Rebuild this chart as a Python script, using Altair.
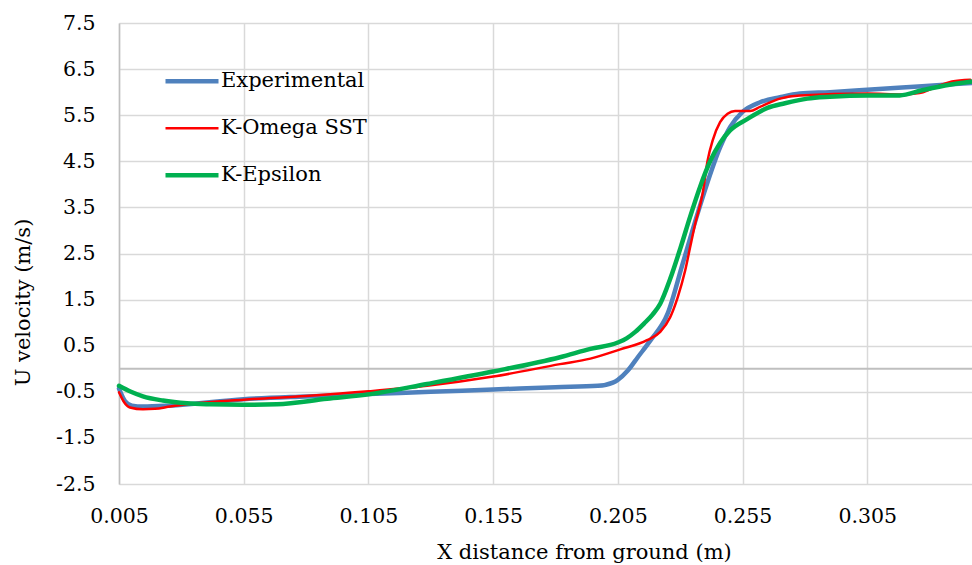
import altair as alt
import pandas as pd

# Experimental (blue)
exp_x = [0.005, 0.0074, 0.0102, 0.0146, 0.025, 0.055, 0.080, 0.105, 0.130, 0.155, 0.180, 0.197, 0.203,
         0.205, 0.209, 0.213, 0.218, 0.225, 0.231, 0.237, 0.241, 0.246, 0.250, 0.255, 0.262, 0.270,
         0.278, 0.290, 0.305, 0.327, 0.347]
exp_y = [-0.43, -0.70, -0.80, -0.82, -0.80, -0.66, -0.60, -0.55, -0.50, -0.45, -0.40, -0.37, -0.30,
         -0.24, -0.04, 0.25, 0.61, 1.20, 2.28, 3.37, 4.05, 4.80, 5.24, 5.57, 5.78, 5.89,
         5.97, 6.00, 6.05, 6.13, 6.20]

# K-Omega SST (red)
kw_x = [0.005, 0.007, 0.0094, 0.0146, 0.0194, 0.0255, 0.0323, 0.055, 0.080, 0.105, 0.1285, 0.155, 0.1818,
        0.194, 0.206, 0.2167, 0.222, 0.226, 0.229, 0.232, 0.234, 0.236, 0.239, 0.241, 0.243, 0.246,
        0.249, 0.252, 0.258, 0.262, 0.270, 0.278, 0.305, 0.319, 0.326, 0.331, 0.339, 0.3463]
kw_y = [-0.51, -0.72, -0.84, -0.88, -0.87, -0.82, -0.77, -0.67, -0.59, -0.49, -0.37, -0.17, 0.10,
        0.22, 0.42, 0.62, 0.80, 1.12, 1.55, 2.13, 2.64, 3.14, 3.80, 4.52, 4.95, 5.35,
        5.53, 5.59, 5.59, 5.68, 5.86, 5.93, 5.97, 5.95, 5.98, 6.08, 6.23, 6.27]

# K-Epsilon (green)
ke_x = [0.005, 0.0098, 0.0146, 0.0226, 0.0323, 0.0415, 0.0547, 0.0683, 0.0884, 0.1057, 0.1285, 0.155,
        0.1818, 0.194, 0.205, 0.2085, 0.212, 0.2155, 0.219, 0.222, 0.226, 0.230, 0.234, 0.238, 0.242,
        0.246, 0.250, 0.257, 0.265, 0.272, 0.281, 0.290, 0.305, 0.318, 0.327, 0.338, 0.347]
ke_y = [-0.37, -0.50, -0.60, -0.69, -0.75, -0.77, -0.78, -0.77, -0.65, -0.55, -0.33, -0.06,
        0.25, 0.43, 0.57, 0.66, 0.80, 0.98, 1.18, 1.41, 1.95, 2.60, 3.30, 3.95, 4.50,
        4.90, 5.17, 5.42, 5.66, 5.76, 5.86, 5.90, 5.93, 5.93, 6.04, 6.16, 6.23]

series = ["Experimental", "K-Omega SST", "K-Epsilon"]
colors = ["#4F81BD", "#FF0000", "#00B050"]
widths = [4.5, 2.5, 4.5]

x_ticks = [0.005, 0.055, 0.105, 0.155, 0.205, 0.255, 0.305]
y_ticks = [-2.5, -1.5, -0.5, 0.5, 1.5, 2.5, 3.5, 4.5, 5.5, 6.5, 7.5]

frames = []
for name, xs, ys in zip(series, [exp_x, kw_x, ke_x], [exp_y, kw_y, ke_y]):
    frames.append(pd.DataFrame({"x": xs, "y": ys, "series": name}))
df = pd.concat(frames, ignore_index=True)

FONT = "DejaVu Serif"
FS = 20.5
TFS = 21
LFS = 21

xenc = alt.X("x:Q", scale=alt.Scale(domain=[0.005, 0.347], nice=False, zero=False),
             axis=alt.Axis(values=x_ticks, format=".3f", title="X distance from ground (m)",
                           grid=True, gridColor="#D9D9D9", gridWidth=1.5, domain=False, ticks=False,
                           labelFlush=False, labelOverlap=False,
                           labelPadding=22, labelFontSize=FS, labelFont=FONT, labelColor="#000000",
                           titleFont=FONT, titleFontSize=TFS, titleFontWeight="normal", titleColor="#000000",
                           titleX=465, titleY=74, titleAlign="center", titleBaseline="alphabetic"))
yenc = alt.Y("y:Q", scale=alt.Scale(domain=[-2.5, 7.5], nice=False, zero=False),
             axis=alt.Axis(values=y_ticks,
                           labelExpr="datum.value < 0 ? '-' + format(-datum.value, '.1f') : format(datum.value, '.1f')",
                           title="U velocity (m/s)",
                           grid=True, gridColor="#D9D9D9", gridWidth=1.5, domain=True, domainColor="#BFBFBF",
                           domainWidth=1.5, ticks=False, labelFlush=False, labelOverlap=False,
                           labelPadding=24, labelFontSize=FS, labelFont=FONT, labelColor="#000000",
                           titleFont=FONT, titleFontSize=TFS, titleFontWeight="normal", titleColor="#000000",
                           titleAngle=270, titleX=-96, titleY=279, titleAlign="center", titleBaseline="middle"))

leg = dict(title=None, orient="none", legendX=44, legendY=35, padding=0,
           symbolType="stroke", symbolSize=2809, labelFont=FONT, labelFontSize=LFS,
           labelColor="#000000", labelOffset=0, rowPadding=0, clipHeight=46.6, labelLimit=400)
color = alt.Color("series:N", scale=alt.Scale(domain=series, range=colors), legend=alt.Legend(**leg))
sw = alt.StrokeWidth("series:N", scale=alt.Scale(type="ordinal", domain=series, range=widths),
                     legend=alt.Legend(**leg))

zero = alt.Chart(pd.DataFrame({"y0": [0.0]})).mark_rule(color="#BFBFBF", strokeWidth=2).encode(y="y0:Q")

layers = [zero]
for name in series:
    layers.append(
        alt.Chart(df).transform_filter(alt.datum.series == name)
        .mark_line(interpolate="monotone", strokeCap="round", strokeJoin="round")
        .encode(x=xenc, y=yenc, color=color, strokeWidth=sw)
    )

chart = alt.layer(*layers).properties(
    width=853, height=461,
    autosize=alt.AutoSizeParams(type="none"),
    padding={"left": 119, "top": 23, "right": 0, "bottom": 81},
    background="#FFFFFF",
).configure_view(stroke=None)

chart.save("out.html", embed_options={"renderer": "svg", "actions": False})
